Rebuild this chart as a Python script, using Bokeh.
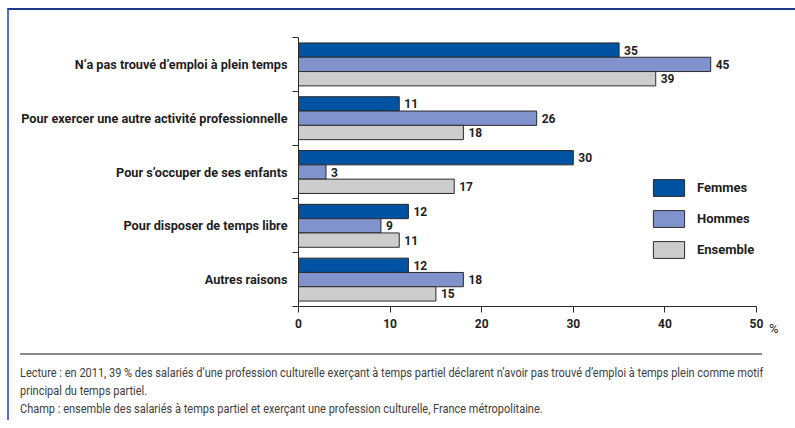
from bokeh.plotting import figure
from bokeh.models import Range1d, FixedTicker, Legend, LegendItem, Title, Div
from bokeh.layouts import column
from bokeh.embed import file_html
from bokeh.resources import INLINE
from bokeh.core.properties import value

# ---- data ----
categories = [
    "N’a pas trouvé d’emploi à plein temps",
    "Pour exercer une autre activité professionnelle",
    "Pour s’occuper de ses enfants",
    "Pour disposer de temps libre",
    "Autres raisons",
]
series = ["Femmes", "Hommes", "Ensemble"]
femmes = [35, 11, 30, 12, 12]
hommes = [45, 26, 3, 9, 18]
ensemble = [39, 18, 17, 11, 15]
x_ticks = [0, 10, 20, 30, 40, 50]
unit_label = "%"
notes = [
    "Lecture : en 2011, 39 % des salariés d’une profession culturelle exerçant à temps partiel déclarent n’avoir pas trouvé d’emploi à temps plein comme motif",
    "principal du temps partiel.",
    "Champ : ensemble des salariés à temps partiel et exerçant une profession culturelle, France métropolitaine.",
]

# ---- style ----
FONT = "Roboto"
colors = ["#0052a3", "#8193cc", "#cdcdcd"]
edge = "#2a2a2a"
text_col = "#1e1e1e"

n = len(categories)
bh = 0.266

p = figure(
    width=786, height=330,
    x_range=Range1d(0, 50), y_range=Range1d(0, n),
    output_backend="svg", toolbar_location=None,
    min_border_left=289, min_border_right=39,
    min_border_top=27, min_border_bottom=34,
)
p.xgrid.visible = False
p.ygrid.visible = False
p.outline_line_color = None
p.background_fill_color = "white"
p.border_fill_color = "white"

renderers = []
for i, (name, vals) in enumerate(zip(series, [femmes, hommes, ensemble])):
    ys = [n - 1 - k + 0.5 + (1 - i) * bh for k in range(n)]
    r = p.hbar(y=ys, left=0, right=vals, height=bh,
               fill_color=colors[i], line_color=edge, line_width=1)
    renderers.append(r)
    p.text(x=vals, y=ys, text=[str(v) for v in vals], x_offset=5,
           text_baseline="middle", text_align="left",
           text_font=value(FONT), text_font_style="bold",
           text_font_size="12px", text_color=text_col)

# y axis: labels at category centres, ticks at category boundaries
yax = p.yaxis[0]
yax.ticker = FixedTicker(ticks=[k + 0.5 for k in range(n)],
                         minor_ticks=list(range(n + 1)))
yax.major_label_overrides = {n - 1 - k + 0.5: categories[k] for k in range(n)}
yax.major_tick_line_color = None
yax.major_tick_out = 0
yax.major_tick_in = 0
yax.minor_tick_out = 6
yax.minor_tick_in = 0
yax.minor_tick_line_color = edge
yax.axis_line_color = edge
yax.major_label_standoff = 5
yax.major_label_text_font = FONT
yax.major_label_text_font_style = "bold"
yax.major_label_text_font_size = "12.7px"
yax.major_label_text_color = text_col

xax = p.xaxis[0]
xax.ticker = FixedTicker(ticks=x_ticks, minor_ticks=[])
xax.major_tick_out = 6
xax.major_tick_in = 0
xax.major_tick_line_color = edge
xax.axis_line_color = edge
xax.major_label_standoff = 6
xax.major_label_text_font = FONT
xax.major_label_text_font_style = "bold"
xax.major_label_text_font_size = "12px"
xax.major_label_text_color = text_col

p.add_layout(Title(text=unit_label, align="right", offset=-22, standoff=-20,
                   vertical_align="top", text_font=FONT, text_font_style="normal",
                   text_font_size="13px", text_color=text_col), "below")

legend = Legend(
    items=[LegendItem(label=s, renderers=[r]) for s, r in zip(series, renderers)],
    location=(351, 46), orientation="vertical",
    glyph_width=39, glyph_height=21, spacing=10, padding=0, margin=0,
    label_standoff=9, border_line_color=None, background_fill_alpha=0,
    label_text_font=FONT, label_text_font_style="bold",
    label_text_font_size="13px", label_text_color=text_col,
)
p.add_layout(legend)

# ---- footer (reading note) ----
lines_html = "<br>".join(notes)
footer_html = (
    '<div style="position:relative;width:786px;height:80px;">'
    '<div style="position:absolute;left:11px;top:13px;width:742px;height:0;'
    'border-top:2px solid #8c8c8c;"></div>'
    '<div style="position:absolute;left:11px;top:24px;white-space:nowrap;'
    "font-family:Roboto;font-size:13px;line-height:18px;color:#404040;"
    'transform:scaleX(0.846);transform-origin:0 0;">'
    + lines_html +
    "</div></div>"
)
footer = Div(text=footer_html, width=786, height=80, margin=0)

layout = column(p, footer, margin=(8, 0, 0, 7),
                styles={"border-top": "2px solid #1f3a88",
                        "border-left": "2px solid #5a70bd"})

open("out.html", "w").write(file_html(layout, INLINE))
